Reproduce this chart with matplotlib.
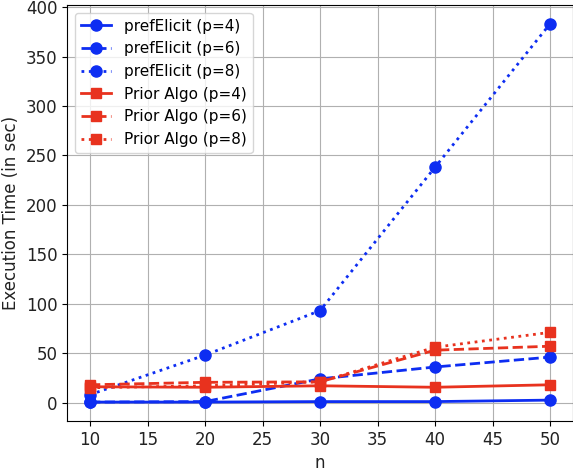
import matplotlib
matplotlib.use("Agg")
import matplotlib.pyplot as plt

n = [10, 20, 30, 40, 50]
pref_p4 = [0.5, 0.5, 1, 1, 2.5]
pref_p6 = [0.5, 1, 24, 36, 46]
pref_p8 = [8, 48, 93, 238, 383]
prior_p4 = [16, 15.5, 17, 15.5, 18]
prior_p6 = [18, 20.5, 21, 53, 57]
prior_p8 = [15, 17, 21, 56, 71]

blue = '#0d2df2'
red = '#e8321e'

fig = plt.figure(figsize=(5.73, 4.71), dpi=100)
ax = fig.add_axes([67 / 573, 1 - 421 / 471, 506 / 573, 416 / 471])

ax.plot(n, pref_p4, color=blue, marker='o', linestyle='-', lw=2, ms=8, label='prefElicit (p=4)')
ax.plot(n, pref_p6, color=blue, marker='o', linestyle='--', lw=2, ms=8, label='prefElicit (p=6)')
ax.plot(n, pref_p8, color=blue, marker='o', linestyle=':', lw=2, ms=8, label='prefElicit (p=8)')
ax.plot(n, prior_p4, color=red, marker='s', linestyle='-', lw=2, ms=7, label='Prior Algo (p=4)')
ax.plot(n, prior_p6, color=red, marker='s', linestyle='--', lw=2, ms=7, label='Prior Algo (p=6)')
ax.plot(n, prior_p8, color=red, marker='s', linestyle=':', lw=2, ms=7, label='Prior Algo (p=8)')

ax.set_xlabel('n', fontsize=12, color='#222222')
ax.set_ylabel('Execution Time (in sec)', fontsize=12, color='#222222')
ax.set_xticks([10, 15, 20, 25, 30, 35, 40, 45, 50])
ax.set_yticks([0, 50, 100, 150, 200, 250, 300, 350, 400])
ax.tick_params(labelsize=12, labelcolor='#222222')
ax.grid(True, color='#b0b0b0', lw=0.8)
ax.legend(loc='upper left', fontsize=11)

fig.savefig('out.png', dpi=100)
